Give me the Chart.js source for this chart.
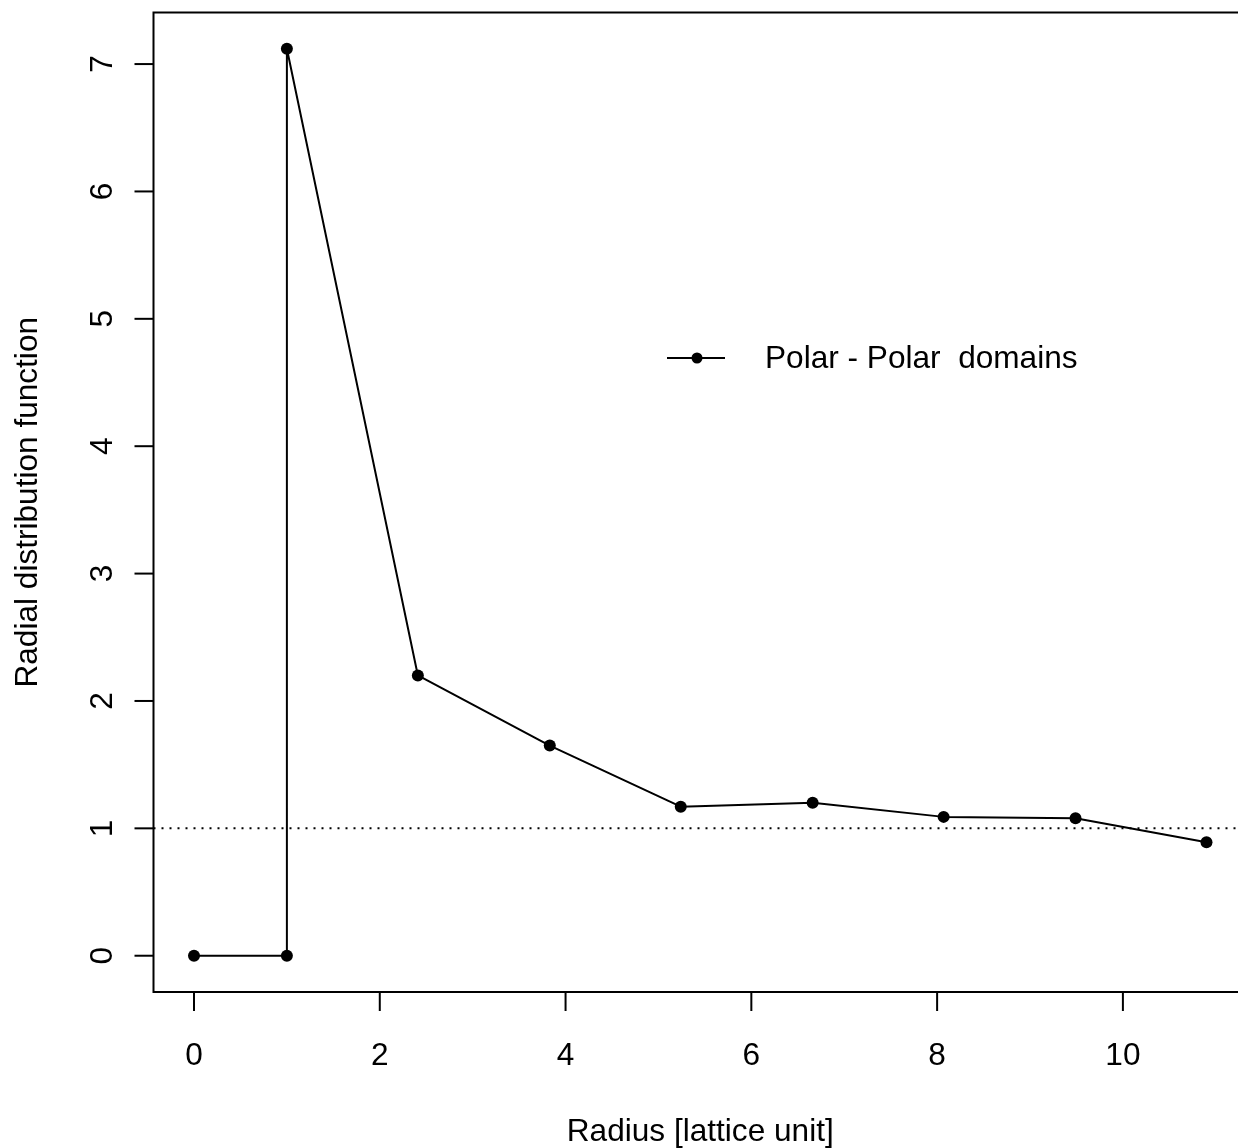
<!DOCTYPE html>
<html>
<head>
<meta charset="utf-8">
<script src="https://cdn.jsdelivr.net/npm/chart.js@4.4.1/dist/chart.umd.min.js"></script>
<style>
  html, body { margin: 0; padding: 0; background: #fff; overflow: hidden; }
  canvas { display: block; }
</style>
</head>
<body>
<canvas id="c" width="1300" height="1148"></canvas>
<script>
// radius values (lattice units) and radial distribution function values
const radius = [ 0, 1, 1, 2.41, 3.83, 5.24, 6.66, 8.07, 9.49, 10.9 ];
const rdf = [ 0, 0, 7.12, 2.2, 1.65, 1.17, 1.2, 1.09, 1.08, 0.89 ];

const xTicks = [ 0, 2, 4, 6, 8, 10 ];
const yTicks = [ 0, 1, 2, 3, 4, 5, 6, 7 ];
const refLevel = 1;

const seriesLabel = 'Polar - Polar  domains';
const xTitle = 'Radius [lattice unit]';
const yTitle = 'Radial distribution function';

const FONT = '31.6px "Liberation Sans", Arial, sans-serif';

// R-style 4% axis extension
function extend(arr) {
  const lo = Math.min.apply(null, arr);
  const hi = Math.max.apply(null, arr);
  const d = (hi - lo) * 0.04;
  return [ lo - d, hi + d ];
}
const xr = extend(radius);
const yr = extend(rdf);

const points = radius.map(function(x, i) {
  return { x, y: rdf[i] };
});

const basePlot = {
  id: 'basePlot',
  beforeDatasetsDraw(chart) {
    const ctx = chart.ctx;
    const area = chart.chartArea;
    const y = chart.scales.y.getPixelForValue(refLevel);
    ctx.save();
    ctx.strokeStyle = '#000';
    ctx.lineWidth = 2;
    ctx.setLineDash([ 2, 6 ]);
    ctx.beginPath();
    ctx.moveTo(area.left, y);
    ctx.lineTo(area.right, y);
    ctx.stroke();
    ctx.restore();
  },
  afterDraw(chart) {
    const ctx = chart.ctx;
    const area = chart.chartArea;
    const xs = chart.scales.x;
    const ys = chart.scales.y;
    ctx.save();
    ctx.strokeStyle = '#000';
    ctx.fillStyle = '#000';
    ctx.lineWidth = 2;
    ctx.setLineDash([]);

    // box
    ctx.strokeRect(area.left, area.top, area.right - area.left, area.bottom - area.top);

    ctx.font = FONT;

    // x axis
    ctx.textAlign = 'center';
    ctx.textBaseline = 'alphabetic';
    xTicks.forEach(function(v) {
      const px = xs.getPixelForValue(v);
      ctx.beginPath();
      ctx.moveTo(px, area.bottom);
      ctx.lineTo(px, area.bottom + 19);
      ctx.stroke();
      ctx.fillText(String(v), px, 1065);
    });

    // y axis, labels rotated like R las=0
    yTicks.forEach(function(v) {
      const py = ys.getPixelForValue(v);
      ctx.beginPath();
      ctx.moveTo(area.left, py);
      ctx.lineTo(area.left - 19, py);
      ctx.stroke();
      ctx.save();
      ctx.translate(112, py);
      ctx.rotate(-Math.PI / 2);
      ctx.fillText(String(v), 0, 0);
      ctx.restore();
    });

    // titles
    ctx.fillText(xTitle, (area.left + area.right) / 2, 1141);
    ctx.save();
    ctx.translate(37, (area.top + area.bottom) / 2);
    ctx.rotate(-Math.PI / 2);
    ctx.fillText(yTitle, 0, 0);
    ctx.restore();

    // legend
    const ly = 358;
    ctx.beginPath();
    ctx.moveTo(667, ly);
    ctx.lineTo(725, ly);
    ctx.stroke();
    ctx.beginPath();
    ctx.arc(697, ly, 5.5, 0, Math.PI * 2);
    ctx.fill();
    ctx.textAlign = 'left';
    ctx.fillText(seriesLabel, 765, 368);

    ctx.restore();
  }
};

new Chart(document.getElementById('c'), {
  type: 'scatter',
  data: {
    datasets: [{
      label: seriesLabel,
      data: points,
      showLine: true,
      borderColor: '#000',
      borderWidth: 2,
      borderJoinStyle: 'round',
      backgroundColor: '#000',
      pointRadius: 6,
      pointBorderWidth: 0,
      pointBackgroundColor: '#000',
      tension: 0
    }]
  },
  options: {
    responsive: false,
    animation: false,
    devicePixelRatio: 1,
    layout: {
      padding: { left: 153.5, top: 12.5, right: 1300 - 1247, bottom: 1148 - 992 }
    },
    plugins: {
      legend: { display: false },
      tooltip: { enabled: false }
    },
    scales: {
      x: { type: 'linear', display: false, min: xr[0], max: xr[1] },
      y: { type: 'linear', display: false, min: yr[0], max: yr[1] }
    }
  },
  plugins: [ basePlot ]
});
</script>
</body>
</html>
